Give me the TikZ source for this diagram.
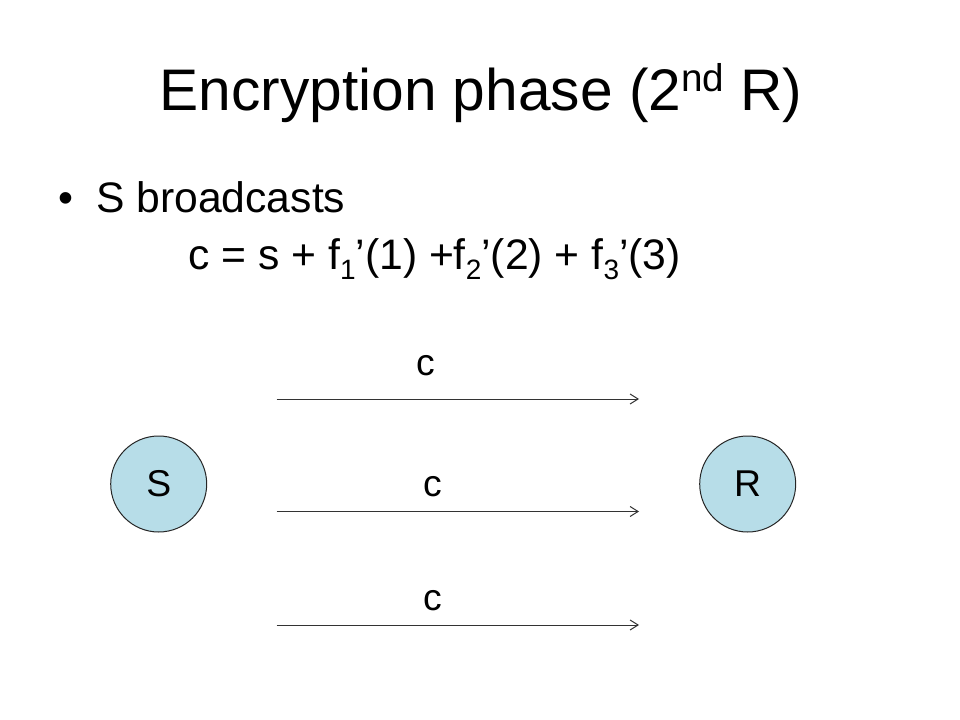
\documentclass[tikz,border=0pt]{standalone}
\usepackage{fontspec}
\setmainfont{Liberation Sans}
\usetikzlibrary{arrows.meta}
\definecolor{nodefill}{RGB}{183,221,232}
\newcommand{\supsc}[1]{\raisebox{0.33em}{\fontsize{29}{30}\selectfont #1}}
\newcommand{\subsc}[1]{\raisebox{-0.22em}{\fontsize{21}{22}\selectfont #1}}
\begin{document}
\begin{tikzpicture}[x=0.75pt, y=-0.75pt,
        txt/.style={inner sep=0pt, anchor=base west},
        party/.style={circle, draw=black!85, line width=0.75pt, fill=nodefill, minimum size=72pt, inner sep=0pt, font=\fontsize{28}{34}\selectfont},
        msg/.style={draw=black!80, line width=0.75pt, -{Straight Barb[length=6pt, width=7.5pt]}}]
        \useasboundingbox (0,0) rectangle (960,720);
        % タイトル
        \node[inner sep=0pt, anchor=base, font=\fontsize{44}{53}\selectfont] (title) at (481,111) {Encryption phase (2\supsc{nd} R)};
        
        % 本文
        \node[txt, font=\fontsize{32}{38}\selectfont] (bullet) at (58,213) {•};
        \node[txt, font=\fontsize{32}{38}\selectfont] (line1) at (96,213) {S broadcasts};
        \node[txt, font=\fontsize{32}{38}\selectfont] (line2) at (188,270) {c = s + f\subsc{1}’(1) +f\subsc{2}’(2) + f\subsc{3}’(3)};
        
        % 送信者と受信者
        \node[party] (S) at (158.7,484) {S};
        \node[party] (R) at (747.7,484) {R};
        
        % 矢印とラベル
        \foreach \i/\y/\cx/\cy in {1/399/425.4/375, 2/511.5/432.5/496, 3/625/432.5/610} {
            \coordinate (from\i) at (276.7,\y);
            \coordinate (to\i) at (639,\y);
            \draw[msg] (from\i) -- (to\i);
            \node[inner sep=0pt, anchor=base, font=\fontsize{28}{34}\selectfont] (c\i) at (\cx,\cy) {c};
        }
        
    \end{tikzpicture}
\end{document}
